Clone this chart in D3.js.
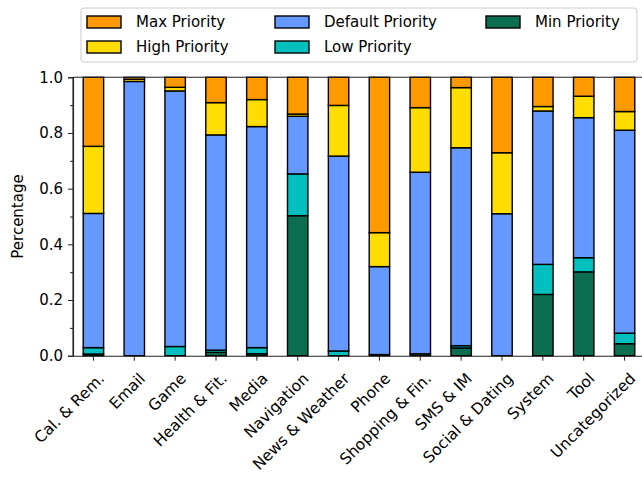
<!DOCTYPE html>
<html>
<head>
<meta charset="utf-8">
<script src="https://cdn.jsdelivr.net/npm/d3@7"></script>
<style>
  body { margin: 0; background: #fff; }
  svg { font-family: "DejaVu Sans", sans-serif; }
</style>
</head>
<body>
<div id="svg-container"></div>
<script>
// data
const categories = ["Cal. & Rem.", "Email", "Game", "Health & Fit.", "Media", "Navigation",
  "News & Weather", "Phone", "Shopping & Fin.", "SMS & IM", "Social & Dating", "System", "Tool", "Uncategorized"];
const minPriority     = [0.006, 0.000, 0.000, 0.012, 0.007, 0.503, 0.000, 0.004, 0.007, 0.028, 0.000, 0.220, 0.301, 0.043];
const lowPriority     = [0.023, 0.000, 0.033, 0.008, 0.022, 0.150, 0.017, 0.000, 0.000, 0.008, 0.000, 0.108, 0.051, 0.038];
const defaultPriority = [0.482, 0.985, 0.918, 0.773, 0.794, 0.207, 0.700, 0.316, 0.652, 0.711, 0.510, 0.551, 0.503, 0.729];
const highPriority    = [0.241, 0.008, 0.013, 0.116, 0.097, 0.008, 0.182, 0.122, 0.232, 0.216, 0.219, 0.016, 0.077, 0.067];
const maxPriority     = [0.248, 0.007, 0.036, 0.091, 0.080, 0.132, 0.101, 0.558, 0.109, 0.037, 0.271, 0.105, 0.068, 0.123];
const yTicks = [0, 0.2, 0.4, 0.6, 0.8, 1.0];

const series = [
  { key: "Min Priority", values: minPriority, color: "#0b6e50" },
  { key: "Low Priority", values: lowPriority, color: "#00bfbf" },
  { key: "Default Priority", values: defaultPriority, color: "#6699ff" },
  { key: "High Priority", values: highPriority, color: "#ffdd00" },
  { key: "Max Priority", values: maxPriority, color: "#ff9900" }
];

const width = 642, height = 478;
const margin = { top: 77.3, right: -3, bottom: 122.3, left: 73 };

const svg = d3.select("#svg-container").append("svg")
  .attr("width", width).attr("height", height);

const rows = categories.map((c, i) => {
  const r = { cat: c };
  series.forEach((s) => (r[s.key] = s.values[i]));
  return r;
});
const stacked = d3.stack().keys(series.map((s) => s.key))(rows);

const xScale = d3.scaleBand().domain(categories)
  .range([margin.left, width - margin.right]).paddingInner(0.5).paddingOuter(0.25);
const yScale = d3.scaleLinear().domain([0, 1]).range([height - margin.bottom, margin.top]);

// bars
svg.append("g").selectAll("g").data(stacked).join("g")
  .attr("fill", (d, i) => series[i].color)
  .selectAll("rect").data((d) => d).join("rect")
  .attr("x", (d) => xScale(d.data.cat))
  .attr("width", xScale.bandwidth())
  .attr("y", (d) => yScale(d[1]))
  .attr("height", (d) => yScale(d[0]) - yScale(d[1]))
  .attr("stroke", "#000")
  .attr("stroke-width", 1.4);

// spines
const spine = svg.append("g").attr("stroke", "#222").attr("stroke-width", 1.1);
spine.append("line").attr("x1", margin.left).attr("x2", margin.left)
  .attr("y1", margin.top).attr("y2", height - margin.bottom);
spine.append("line").attr("x1", margin.left).attr("x2", width)
  .attr("y1", margin.top).attr("y2", margin.top);

// y axis
const yAxis = svg.append("g").attr("transform", `translate(${margin.left},0)`)
  .call(d3.axisLeft(yScale).tickValues(yTicks).tickFormat(d3.format(".1f")).tickSize(5).tickPadding(5));
svg.append("g").attr("transform", `translate(${margin.left},0)`)
  .call(d3.axisLeft(yScale).tickValues([0.1, 0.3, 0.5, 0.7, 0.9]).tickFormat("").tickSize(3))
  .select(".domain").remove();

// x axis
const xAxis = svg.append("g").attr("transform", `translate(0,${height - margin.bottom})`)
  .call(d3.axisBottom(xScale).tickSize(5).tickSizeOuter(0));
xAxis.select(".domain").attr("d", `M${margin.left},0.5H${width}`);
xAxis.selectAll("text")
  .attr("text-anchor", "end")
  .attr("dy", "0.75em")
  .attr("transform", "translate(-2,10) rotate(-45)");

svg.selectAll(".tick text").attr("font-size", 15).attr("fill", "#000")
  .attr("font-family", "DejaVu Sans, sans-serif");
xAxis.selectAll(".tick text").attr("font-size", 15.5);
svg.selectAll(".tick line").attr("stroke", "#222");
svg.selectAll(".domain").attr("stroke", "#222").attr("stroke-width", 1.1);

svg.append("text")
  .attr("transform", `translate(23,${(margin.top + height - margin.bottom) / 2}) rotate(-90)`)
  .attr("text-anchor", "middle")
  .attr("font-size", 15)
  .text("Percentage");

// legend
const legend = svg.append("g");
legend.append("rect").attr("x", 81).attr("y", 8).attr("width", 556).attr("height", 54)
  .attr("rx", 3).attr("fill", "#fff").attr("stroke", "#ccc");
const legendOrder = ["Max Priority", "High Priority", "Default Priority", "Low Priority", "Min Priority"];
const colX = [87, 275, 486];
const rowY = [22, 47];
legendOrder.forEach((k, i) => {
  const s = series.find((d) => d.key === k);
  const cx = colX[Math.floor(i / 2)], cy = rowY[i % 2];
  legend.append("rect").attr("x", cx).attr("y", cy - 6).attr("width", 34).attr("height", 12)
    .attr("fill", s.color).attr("stroke", "#000").attr("stroke-width", 1.4);
  legend.append("text").attr("x", cx + 49).attr("y", cy).attr("dy", "0.35em")
    .attr("font-size", 15).text(k);
});
</script>
</body>
</html>
